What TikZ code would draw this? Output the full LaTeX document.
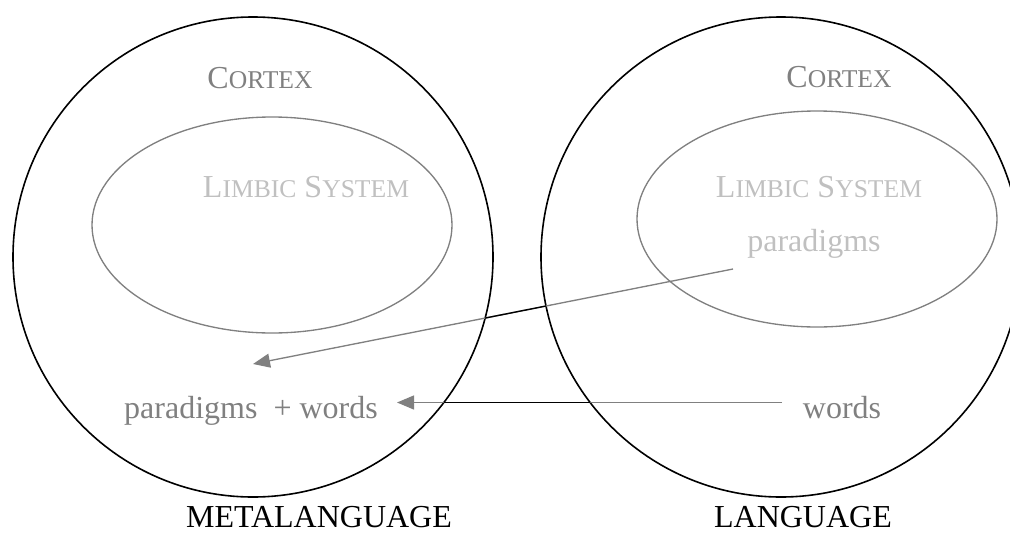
\documentclass[tikz,border=0pt]{standalone}
\usepackage{fontspec}
\setmainfont{Liberation Serif}
\usetikzlibrary{arrows.meta,shapes.geometric}
\definecolor{midgray}{HTML}{808080}
\definecolor{lightgray}{HTML}{C0C0C0}
\newcommand{\fsc}[1]{{\fontsize{19.2pt}{22pt}\selectfont #1}}
\tikzset{
  outer/.style={circle,draw=black,line width=1.2pt,minimum size=360pt,inner sep=0pt},
  limbic/.style={ellipse,draw=midgray,line width=1pt,minimum width=270pt,minimum height=162pt,inner sep=0pt},
  txt/.style={anchor=base,inner sep=0pt,font=\fontsize{24pt}{28pt}\selectfont},
  cortex/.style={txt,text=midgray},
  faint/.style={txt,text=lightgray},
  label/.style={txt,text=black},
  conn/.style={draw=midgray,line width=1pt,-{Triangle[length=12.75pt,width=10.5pt]}},
  connblack/.style={draw=black,line width=1pt}
}
\begin{document}
\begin{tikzpicture}[x=0.75pt,y=-0.75pt]
\useasboundingbox (0,0) rectangle (1010,532);
% outer circles
\node[outer] (lc) at (253,257) {};
\node[outer] (rc) at (781,257) {};
% limbic ellipses
\node[limbic] (le) at (272,225) {};
\node[limbic] (re) at (817,219) {};
% texts
\node[cortex] (lcortex) at (260,88) {C\fsc{ORTEX}};
\node[cortex] (rcortex) at (839,87) {C\fsc{ORTEX}};
\node[faint] (llimbic) at (306,197) {L\fsc{IMBIC} S\fsc{YSTEM}};
\node[faint] (rlimbic) at (819,197) {L\fsc{IMBIC} S\fsc{YSTEM}};
\node[faint] (rpar) at (814,251) {paradigms};
\node[cortex] (lpw) at (251,418) {paradigms\ \ + words};
\node[cortex] (rwords) at (842,418) {words};
\node[label] (meta) at (319,527) {METALANGUAGE};
\node[label] (lang) at (803,527) {LANGUAGE};
% connector ends
\coordinate (a1) at (733,269);
\coordinate (a2) at (253,364);
\coordinate (b1) at (782,402.5);
\coordinate (b2) at (397,402.5);
\draw[conn] (a1) -- (a2);
\draw[conn] (b1) -- (b2);
% parts of the connectors between the circles are black
\begin{scope}[even odd rule]
\clip (0,0) rectangle (1010,532)
  (lc.center) circle[radius=180pt] (rc.center) circle[radius=180pt];
\draw[connblack] (a1) -- (a2);
\draw[connblack] (b1) -- (b2);
\end{scope}
\end{tikzpicture}
\end{document}
